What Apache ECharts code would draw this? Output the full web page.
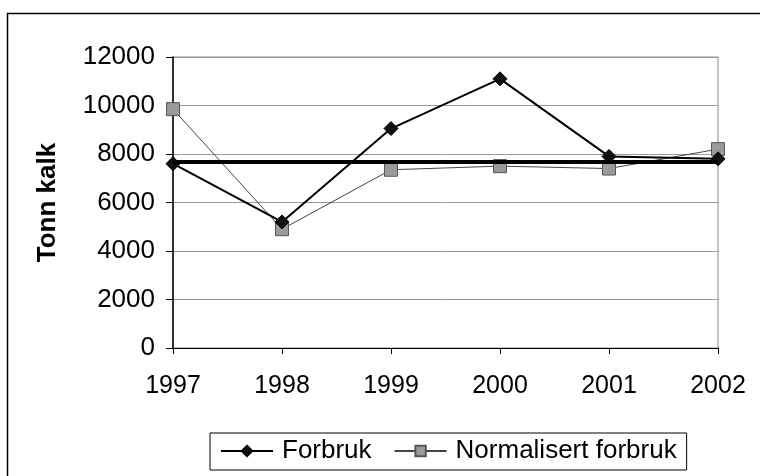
<!DOCTYPE html>
<html lang="no">
<head>
<meta charset="UTF-8">
<title>Tonn kalk</title>
<script src="https://cdn.jsdelivr.net/npm/echarts@6/dist/echarts.min.js"></script>
<style>
  html, body { margin: 0; padding: 0; background: #fff; }
</style>
</head>
<body>
<div id="main" style="width:760px;height:476px"></div>
<script type="text/javascript">
    // data
    var years = ['1997', '1998', '1999', '2000', '2001', '2002'];
    var forbruk = [7600, 5200, 9050, 11100, 7900, 7800];
    var normalisert = [9850, 4900, 7350, 7500, 7400, 8200];
    var nivaa = 7680;   // thick horizontal reference line

    var font = 'Liberation Sans';

    var myChart = echarts.init(document.getElementById('main'));
    myChart.setOption({
        animation: false,
        backgroundColor: '#fff',
        textStyle: { fontFamily: font },
        graphic: [{
            type: 'rect',
            shape: { x: 7.5, y: 13.5, width: 800, height: 500 },
            style: { fill: 'none', stroke: '#000', lineWidth: 1.5 },
            z: -1
        }],
        grid: {
            left: 173, right: 42, top: 57, bottom: 128,
            show: true, borderColor: '#888', borderWidth: 1
        },
        legend: {
            left: 210, top: 433,
            padding: [5, 10, 6, 10],
            borderColor: '#000', borderWidth: 1,
            itemWidth: 52, itemHeight: 13, itemGap: 22,
            textStyle: { fontSize: 26, color: '#000', fontFamily: font, padding: [0, 0, 0, 4] },
            data: ['Forbruk', 'Normalisert forbruk']
        },
        xAxis: {
            type: 'category',
            data: years,
            boundaryGap: false,
            axisLine: { lineStyle: { color: '#000', width: 1 } },
            axisTick: { show: true, length: 6, inside: false, lineStyle: { color: '#000' } },
            axisLabel: { fontSize: 25, color: '#000', margin: 26, fontFamily: font },
            splitLine: { show: false }
        },
        yAxis: {
            type: 'value',
            min: 0, max: 12000, interval: 2000,
            name: 'Tonn kalk',
            nameLocation: 'middle',
            nameGap: 112,
            nameTextStyle: { fontSize: 26, fontWeight: 'bold', color: '#000', fontFamily: font },
            axisLine: { show: true, lineStyle: { color: '#000', width: 1.5 } },
            axisTick: { show: true, length: 7, lineStyle: { color: '#000' } },
            axisLabel: {
                fontSize: 26, color: '#000', margin: 18, fontFamily: font,
                formatter: function (v) { return String(v); }
            },
            splitLine: { show: true, lineStyle: { color: '#999', width: 1 } }
        },
        series: [
            {
                name: 'Forbruk',
                type: 'line',
                data: forbruk,
                symbol: 'diamond',
                symbolSize: 14,
                lineStyle: { color: '#000', width: 2 },
                itemStyle: { color: '#111', borderColor: '#000', borderWidth: 1 },
                z: 3
            },
            {
                name: 'Normalisert forbruk',
                type: 'line',
                data: normalisert,
                symbol: 'rect',
                symbolSize: 13,
                lineStyle: { color: '#444', width: 1 },
                itemStyle: { color: '#9a9a9a', borderColor: '#555', borderWidth: 1 },
                markLine: {
                    silent: true,
                    symbol: 'none',
                    label: { show: false },
                    lineStyle: { color: '#000', width: 4, type: 'solid' },
                    data: [{ yAxis: nivaa }]
                },
                z: 2
            }
        ]
    });
</script>
</body>
</html>
